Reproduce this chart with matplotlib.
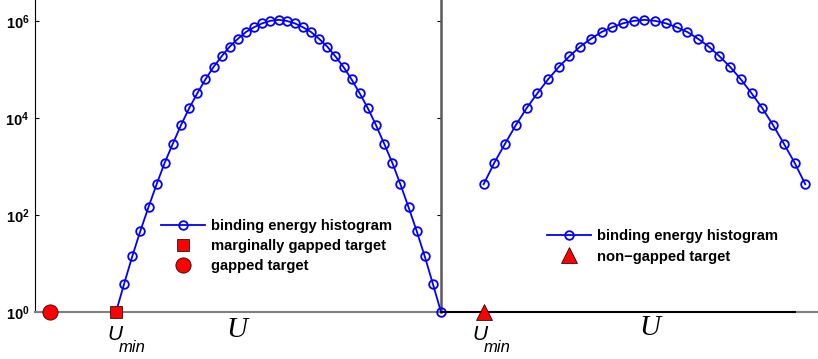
import matplotlib.pyplot as plt
from matplotlib.lines import Line2D

plt.rcParams['mathtext.fontset'] = 'custom'
plt.rcParams['mathtext.it'] = 'Liberation Sans:italic'
plt.rcParams['mathtext.rm'] = 'Liberation Sans'
plt.rcParams['mathtext.bf'] = 'Liberation Sans:bold'

# histogram of binding energies (bin index, count)
bins = list(range(41))
counts = [1, 3.8, 14, 47, 145, 430, 1200, 2950, 7100, 15800, 32000,
          62000, 112000, 186000, 295000, 427000, 590000, 740000, 890000,
          1000000, 1050000, 1000000, 890000, 740000, 590000, 427000,
          295000, 186000, 112000, 62000, 32000, 15800, 7100, 2950, 1200,
          430, 145, 47, 14, 3.8, 1]

# right panel shows the central part of the same histogram
right_bins = bins[5:36]
right_counts = counts[5:36]

# target positions (bin index, count)
gapped_x, gapped_y = -8.1, 1
marginal_x, marginal_y = 0, 1
nongapped_x, nongapped_y = 5, 1

yticks = [1, 1e2, 1e4, 1e6]
ytick_labels = [r'$\mathdefault{10^{0}}$', r'$\mathdefault{10^{2}}$',
                r'$\mathdefault{10^{4}}$', r'$\mathdefault{10^{6}}$']

W, H = 818, 359
fig = plt.figure(figsize=(W / 100, H / 100), dpi=100)

def fx(px):
    return px / W

def fy(py):
    return 1 - py / H

ytop = 10 ** 6.43
blue = (0, 0, 1)
legend_font = {'family': 'Liberation Sans', 'weight': 'bold', 'size': 10.6}

# ---- left panel
ax1 = fig.add_axes([fx(35), fy(312), fx(441) - fx(35), fy(0) - fy(312)])
ax1.set_yscale('log')
ax1.set_ylim(1, ytop)
ax1.set_xlim(-9.97, 40)
l1, = ax1.plot(bins, counts, '-o', color=blue, mfc='none', mec=blue,
               ms=6.2, mew=1.3, lw=1.3, clip_on=False, zorder=3)
sq, = ax1.plot(marginal_x, marginal_y, 's', color='red', mec='black',
               mew=0.5, ms=9, clip_on=False, zorder=5)
ci, = ax1.plot(gapped_x, gapped_y, 'o', color='red', mec='black',
               mew=0.5, ms=11, clip_on=False, zorder=5)
ax1.spines['top'].set_visible(False)
ax1.spines['left'].set_color('black')
ax1.spines['right'].set_color((0.35, 0.35, 0.35))
ax1.spines['right'].set_linewidth(1.8)
ax1.spines['bottom'].set_color((0.5, 0.5, 0.5))
ax1.spines['bottom'].set_linewidth(1.5)
ax1.set_xticks([])
ax1.set_yticks(yticks)
ax1.set_yticklabels(ytick_labels, fontweight='bold', fontsize=10.5,
                    family='Liberation Sans')
ax1.minorticks_off()
ax1.tick_params(axis='y', which='both', direction='in', length=3,
                left=True, right=True, pad=4)
ax1.legend([l1, sq, ci],
           ['binding energy histogram', 'marginally gapped target',
            'gapped target'],
           loc='upper left', bbox_to_anchor=(fx(161), fy(219)),
           bbox_transform=fig.transFigure, frameon=False, prop=legend_font,
           handlelength=3.0, handletextpad=0.4, labelspacing=0.4,
           borderpad=0, borderaxespad=0, numpoints=1)

# ---- right panel
ax2 = fig.add_axes([fx(441), fy(312), fx(797) - fx(441), fy(0) - fy(312)])
ax2.set_yscale('log')
ax2.set_ylim(1, ytop)
ax2.set_xlim(1.02, 34.23)
l2, = ax2.plot(right_bins, right_counts, '-o', color=blue, mfc='none',
               mec=blue, ms=6.2, mew=1.3, lw=1.3, clip_on=False, zorder=3)
tr, = ax2.plot(nongapped_x, nongapped_y, '^', color='red', mec='black',
               mew=0.5, ms=11, clip_on=False, zorder=5)
for s in ['top', 'left', 'right']:
    ax2.spines[s].set_visible(False)
ax2.spines['bottom'].set_color('black')
ax2.spines['bottom'].set_linewidth(1.5)
ax2.set_xticks([])
ax2.set_yticks([])
ax2.minorticks_off()
ax2.tick_params(axis='y', which='both', left=False, right=False)
ax2.patch.set_alpha(0)
ax2.legend([l2, tr], ['binding energy histogram', 'non\u2212gapped target'],
           loc='upper left', bbox_to_anchor=(fx(547), fy(229)),
           bbox_transform=fig.transFigure, frameon=False, prop=legend_font,
           handlelength=3.0, handletextpad=0.4, labelspacing=0.45,
           borderpad=0, borderaxespad=0, numpoints=1)

# gray baseline continuing past the right panel
fig.add_artist(Line2D([fx(797), 1], [fy(312), fy(312)], color=(0.5, 0.5, 0.5),
                      lw=1.5))

# axis annotations
for x0 in (107, 472):
    fig.text(fx(x0), fy(339.5), 'U', fontsize=15, family='Liberation Sans',
             style='italic', ha='left', va='baseline')
    fig.text(fx(x0 + 12), fy(352), 'min', fontsize=12,
             family='Liberation Sans', style='italic', ha='left',
             va='baseline')
fig.text(fx(237), fy(330), 'U', fontsize=21, family='Liberation Serif',
         style='italic', ha='center', va='center')
fig.text(fx(650), fy(328), 'U', fontsize=21, family='Liberation Serif',
         style='italic', ha='center', va='center')

fig.savefig('out.png', dpi=100)
